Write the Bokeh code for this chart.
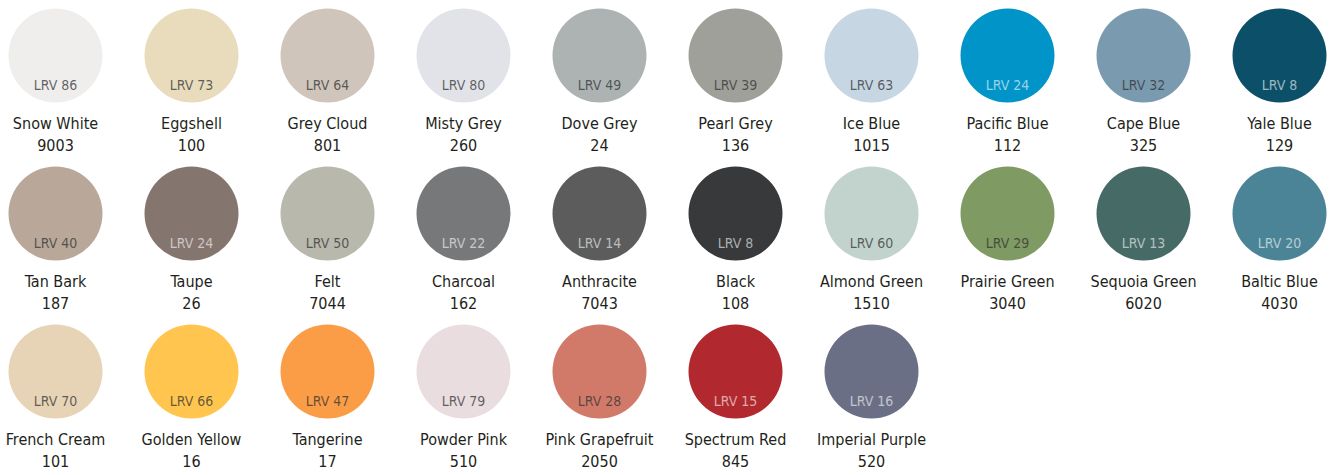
from bokeh.plotting import figure
from bokeh.models import ColumnDataSource, Range1d
from bokeh.core.properties import value
from bokeh.embed import file_html
from bokeh.resources import INLINE

names = ["Snow White", "Eggshell", "Grey Cloud", "Misty Grey", "Dove Grey", "Pearl Grey",
         "Ice Blue", "Pacific Blue", "Cape Blue", "Yale Blue",
         "Tan Bark", "Taupe", "Felt", "Charcoal", "Anthracite", "Black",
         "Almond Green", "Prairie Green", "Sequoia Green", "Baltic Blue",
         "French Cream", "Golden Yellow", "Tangerine", "Powder Pink", "Pink Grapefruit",
         "Spectrum Red", "Imperial Purple"]
codes = ["9003", "100", "801", "260", "24", "136", "1015", "112", "325", "129",
         "187", "26", "7044", "162", "7043", "108", "1510", "3040", "6020", "4030",
         "101", "16", "17", "510", "2050", "845", "520"]
lrv = [86, 73, 64, 80, 49, 39, 63, 24, 32, 8,
       40, 24, 50, 22, 14, 8, 60, 29, 13, 20,
       70, 66, 47, 79, 28, 15, 16]
swatch_colors = ["#efeeed", "#e8dcbc", "#d0c5bb", "#e1e3e8", "#adb3b3", "#a0a09a",
                 "#c6d6e3", "#0094c8", "#7a9aaf", "#0c4f68",
                 "#b9a89a", "#84756f", "#b9b8ad", "#77787a", "#5b5c5b", "#38393b",
                 "#c1d3cc", "#7f9a63", "#466a66", "#4a8496",
                 "#e7d4b6", "#ffc54f", "#fb9d47", "#e9dddf", "#d27a6a",
                 "#b1292f", "#6a6f85"]

W, H = 1332, 475
ncol = 10
dx, dy = 136, 158
r = 47
x0, y0 = 55, 55

xs = [x0 + (i % ncol) * dx for i in range(len(names))]
ys = [y0 + (i // ncol) * dy for i in range(len(names))]

src = ColumnDataSource(dict(
    x=xs, y=ys,
    y_lrv=[y + 29 for y in ys],
    y_name=[y + 68 for y in ys],
    y_code=[y + 89 for y in ys],
    color=swatch_colors,
    lrv_text=["LRV %d" % v for v in lrv],
    lrv_color=["#ffffff" if v <= 24 else "#333333" for v in lrv],
    lrv_alpha=[0.6 if v <= 24 else 0.75 for v in lrv],
    name=names,
    code=codes,
))

p = figure(width=W, height=H, output_backend="svg", toolbar_location=None,
           x_range=Range1d(0, W), y_range=Range1d(H, 0), min_border=0)
p.axis.visible = False
p.grid.visible = False
p.outline_line_color = None
p.background_fill_color = "white"
p.border_fill_color = "white"

p.circle(x="x", y="y", radius=r, fill_color="color", line_color=None, source=src)

font = value("DejaVu Sans Condensed")
p.text(x="x", y="y_lrv", text="lrv_text", text_color="lrv_color", text_alpha="lrv_alpha",
       text_font=font, text_font_size="14px", text_align="center",
       text_baseline="middle", source=src)
p.text(x="x", y="y_name", text="name", text_color="#231f20",
       text_font=font, text_font_size="16px", text_align="center",
       text_baseline="middle", source=src)
p.text(x="x", y="y_code", text="code", text_color="#231f20",
       text_font=font, text_font_size="16px", text_align="center",
       text_baseline="middle", source=src)

open("out.html", "w").write(file_html(p, INLINE))
